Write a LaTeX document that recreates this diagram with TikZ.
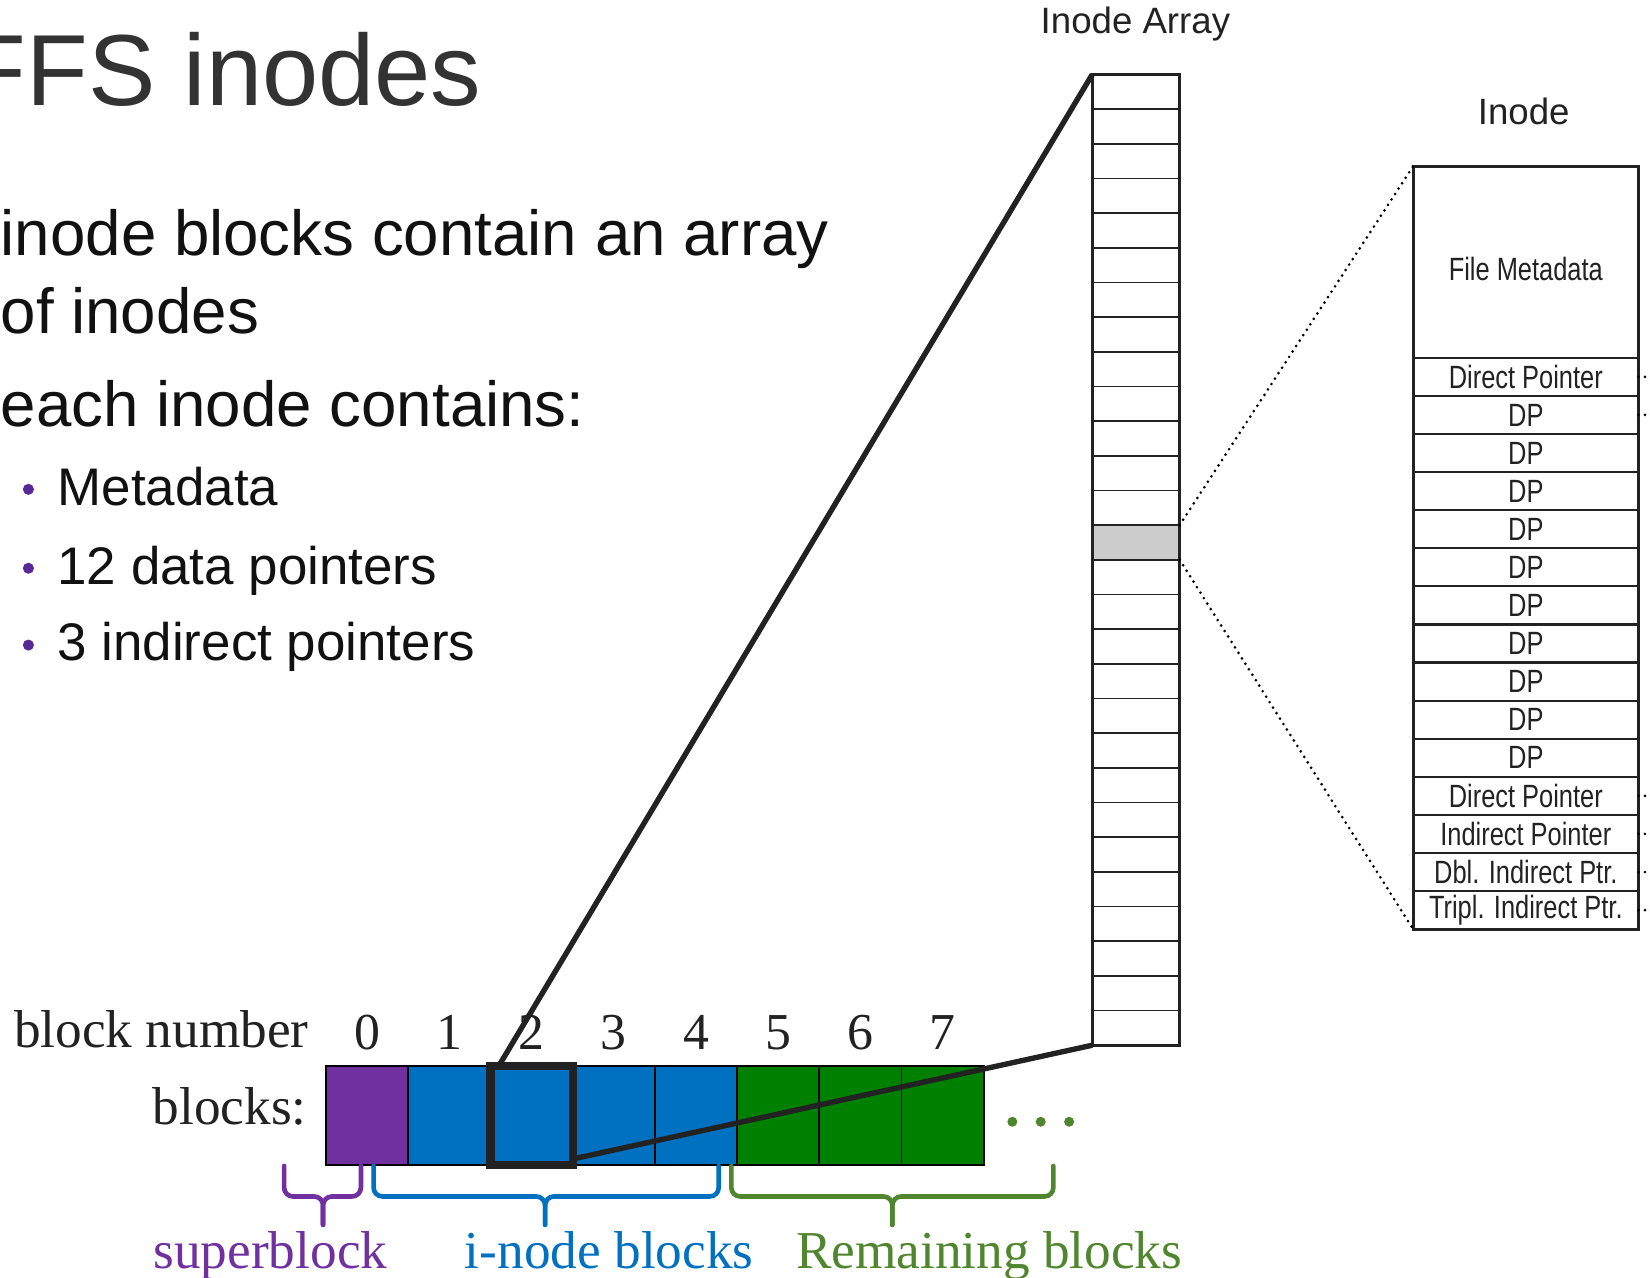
\documentclass[tikz,border=0pt]{standalone}
\usepackage{fontspec}
\setmainfont{Liberation Sans}
\newfontfamily\serifface{Liberation Serif}
\newfontfamily\condface[FakeStretch=0.79]{Liberation Sans}
\usetikzlibrary{calc}

\definecolor{titlegray}{HTML}{333333}
\definecolor{bodyblack}{HTML}{111111}
\definecolor{bulletpurple}{RGB}{88,40,150}
\definecolor{superpurple}{RGB}{112,48,160}
\definecolor{inodeblue}{RGB}{0,112,192}
\definecolor{datagreen}{RGB}{0,128,0}
\definecolor{labelgreen}{RGB}{80,134,46}
\definecolor{inkdark}{HTML}{222222}

\tikzset{
  titletext/.style={anchor=base west, inner sep=0, text=titlegray,
    font=\fontsize{27.3}{32}\selectfont},
  bodytext/.style={anchor=base west, inner sep=0, text=bodyblack,
    font=\fontsize{17.2}{20}\selectfont},
  subtext/.style={anchor=base west, inner sep=0, text=bodyblack,
    font=\fontsize{14.3}{17}\selectfont},
  headlabel/.style={inner sep=0, text=inkdark, font=\fontsize{9.9}{12}\selectfont},
  cellline/.style={draw=inkdark, line width=0.45pt},
  arrayframe/.style={draw=inkdark, line width=0.75pt},
  selcell/.style={fill=black!20, minimum width=0.83cm, minimum height=0.3293cm,
    inner sep=0, outer sep=0},
  inoderow/.style={draw=inkdark, line width=0.6pt, minimum width=2.14cm,
    minimum height=0.362cm, inner sep=0, outer sep=0, text=inkdark,
    font=\condface\fontsize{8.7}{9}\selectfont},
  dotline/.style={draw=black, line width=0.8pt, line cap=round,
    dash pattern=on 0pt off 1.75pt},
  blockcell/.style={draw=black, line width=0.5pt, minimum width=0.781cm,
    minimum height=0.94cm, inner sep=0, outer sep=0},
  zoomline/.style={draw=inkdark, line width=1.45pt},
  hlbox/.style={draw=inkdark, line width=2.3pt},
  serifnum/.style={anchor=base, inner sep=0, text=inkdark,
    font=\serifface\fontsize{14}{16}\selectfont},
  seriflabel/.style={inner sep=0, text=inkdark,
    font=\serifface\fontsize{14.4}{17}\selectfont},
  bracepath/.style={line width=1.25pt, rounded corners=2.4pt, line cap=round},
  grouplabel/.style={anchor=base, inner sep=0,
    font=\serifface\fontsize{14.4}{17}\selectfont},
}

\begin{document}
\begin{tikzpicture}[x=0.01cm, y=-0.01cm]
\useasboundingbox (0,0) rectangle (1568,1214);

% ---------- slide text ----------
\node[titletext] (title) at (-34,100) {FFS inodes};
\node[bodytext] (l1) at (0,243) {inode blocks contain an array};
\node[bodytext] (l2) at (0,317) {of inodes};
\node[bodytext] (l3) at (0,405) {each inode contains:};
\node[subtext] (s1) at (54,480) {Metadata};
\node[subtext] (s2) at (54,555) {12 data pointers};
\node[subtext] (s3) at (54,628) {3 indirect pointers};
\foreach \y in {465,540,613}
  \fill[bulletpurple] (27,\y) circle (1.5pt);

% ---------- inode array ----------
\node[headlabel] (arrlabel) at (1079,23) {Inode Array};
\node[minimum width=0.83cm, minimum height=9.22cm, inner sep=0, outer sep=0]
  (iarr) at (1079.5,532) {};
\node[selcell] (sel) at ($(iarr.north)!13.5/28!(iarr.south)$) {};
\foreach \i in {1,...,27}
  \draw[cellline] ($(iarr.north west)!\i/28!(iarr.south west)$)
    -- ($(iarr.north east)!\i/28!(iarr.south east)$);
\draw[arrayframe] (iarr.north west) rectangle (iarr.south east);

% ---------- single inode ----------
\node[headlabel] (inodelabel) at (1448,106) {Inode};
\node[inoderow, minimum height=1.82cm] (meta) at (1450,249)
  {\raisebox{-5.1pt}[0pt][0pt]{File Metadata}};
\foreach \t [count=\k] in {Direct Pointer, DP, DP, DP, DP, DP, DP, DP, DP, DP, DP,
    Direct Pointer, Indirect Pointer, Dbl. Indirect Ptr., Tripl. Indirect Ptr.}
  \node[inoderow] (r\k) at (1450,{358.1+36.2*(\k-1)}) {\t};
\draw[inkdark, line width=0.8pt] (meta.north west) rectangle (r15.south east);

% pointer stubs leaving the inode
\foreach \k in {1,2,12,13,14,15}
  \draw[dotline] (r\k.east) -- ([xshift=0.16cm]r\k.east);

% selected entry expanded into the inode
\draw[dotline] (sel.north east) -- (meta.north west);
\draw[dotline] (sel.south east) -- (r15.south west);

% ---------- disk blocks ----------
\foreach \i/\c in {0/superpurple,1/inodeblue,2/inodeblue,3/inodeblue,4/inodeblue,
    5/datagreen,6/datagreen,7/datagreen}
  \node[blockcell, fill=\c] (b\i) at ({349.05+78.1*\i},1060) {};

\coordinate (numrow) at (0,997);
\foreach \i in {0,...,7}
  \node[serifnum] (n\i) at (b\i |- numrow) {\i};

\node[seriflabel, anchor=base east] (bnlabel) at (294,995) {block number};
\node[seriflabel, anchor=base east] (blabel) at (292,1069) {blocks:};

\foreach \x in {962,989,1016}
  \fill[labelgreen] (\x,1066) circle (1.35pt);

% highlighted inode block and its zoom lines
\draw[hlbox] (b2.north west) rectangle (b2.south east);
\draw[zoomline] (iarr.north west) -- ($(b2.north west)!0.1!(b2.north east)$);
\draw[zoomline] (iarr.south west) -- ($(b2.north east)!0.94!(b2.south east)$);

% ---------- group braces ----------
\draw[bracepath, superpurple] (270,1108) -- (270,1137) -- (307,1137) -- (307,1164);
\draw[bracepath, superpurple] (343,1108) -- (343,1137) -- (307,1137) -- (307,1164);
\draw[bracepath, inodeblue] (355,1108) -- (355,1137) -- (518,1137) -- (518,1164);
\draw[bracepath, inodeblue] (683,1108) -- (683,1137) -- (518,1137) -- (518,1164);
\draw[bracepath, labelgreen] (695,1108) -- (695,1137) -- (848,1137) -- (848,1164);
\draw[bracepath, labelgreen] (1001,1108) -- (1001,1137) -- (848,1137) -- (848,1164);

\node[grouplabel, text=superpurple] (gsuper) at (257,1205) {superblock};
\node[grouplabel, text=inodeblue] (ginode) at (579,1205) {i-node blocks};
\node[grouplabel, text=labelgreen] (grest) at (940,1205) {Remaining blocks};
\end{tikzpicture}
\end{document}
